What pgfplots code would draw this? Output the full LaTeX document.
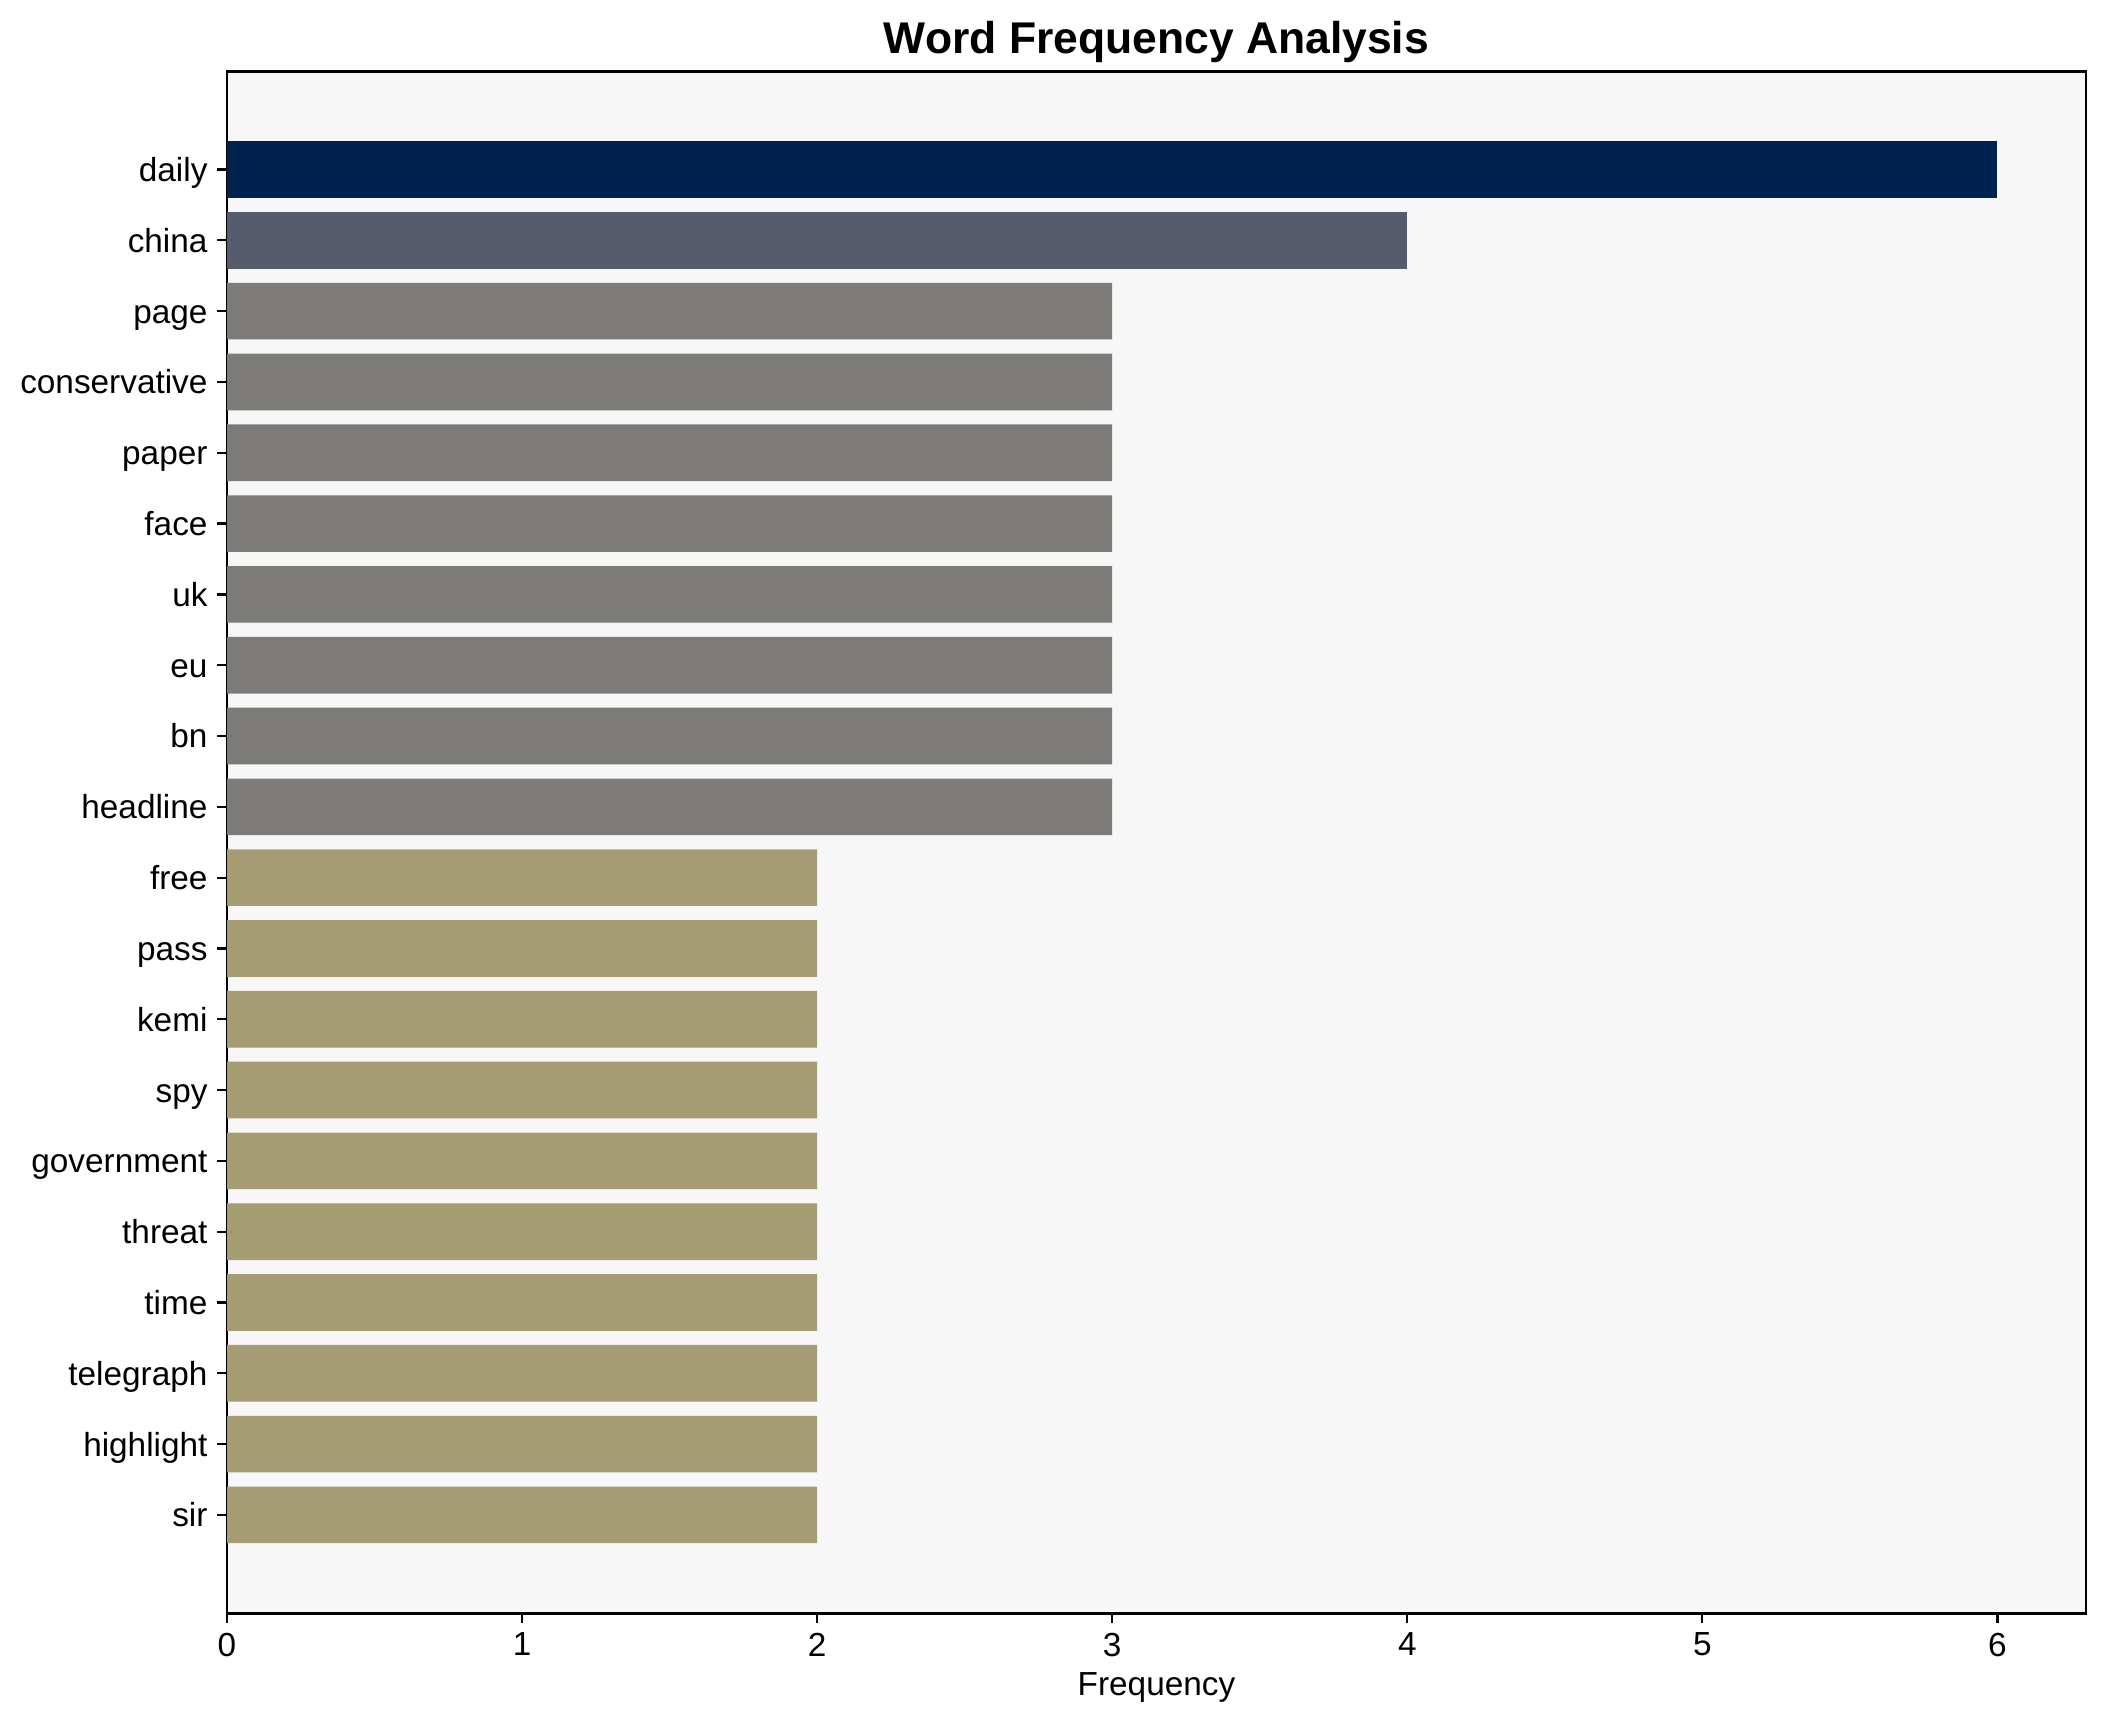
\documentclass[border=0pt]{standalone}
\usepackage{pgfplots}
\pgfplotsset{compat=1.18}
\usepackage{fontspec}
\setmainfont{Liberation Sans}
\definecolor{c6}{HTML}{00224E}
\definecolor{c4}{HTML}{575C6D}
\definecolor{c3}{HTML}{7C7B78}
\definecolor{c2}{HTML}{A59C74}
\definecolor{bgc}{HTML}{F7F7F7}
\begin{document}
\begin{tikzpicture}
\path (-81.7pt,-39.6pt) rectangle (676.2pt,580.6pt);
\begin{axis}[
  at={(0,0)}, anchor=south west,
  width=669pt, height=555pt, scale only axis,
  xmin=0, xmax=6.3, ymin=-1.39, ymax=20.39, y dir=reverse,
  axis background/.style={fill=bgc},
  axis line style={black, line width=1pt},
  xtick={0,1,2,3,4,5,6},
  ytick={0,...,19},
  yticklabels={daily,china,page,conservative,paper,face,uk,eu,bn,headline,free,pass,kemi,spy,government,threat,time,telegraph,highlight,sir},
  tick style={black, line width=0.8pt},
  tick align=outside, major tick length=3.5pt,
  xtick pos=bottom, ytick pos=left,
  tick label style={font=\fontsize{12}{14}\selectfont},
  yticklabel style={text height=8.6pt, text depth=0pt},
  /pgf/number format/assume math mode=true,
  xlabel={Frequency}, xlabel style={font=\fontsize{12}{14}\selectfont, yshift=1pt},
  title={\textbf{Word Frequency Analysis}}, title style={font=\fontsize{16}{19}\selectfont, yshift=-6.5pt},
  xbar, bar width=0.8, bar shift=0pt,
]
\addplot[fill=c6, draw=none] coordinates {(6,0)};
\addplot[fill=c4, draw=none] coordinates {(4,1)};
\addplot[fill=c3, draw=none] coordinates {(3,2) (3,3) (3,4) (3,5) (3,6) (3,7) (3,8) (3,9)};
\addplot[fill=c2, draw=none] coordinates {(2,10) (2,11) (2,12) (2,13) (2,14) (2,15) (2,16) (2,17) (2,18) (2,19)};
\end{axis}
\end{tikzpicture}
\end{document}
